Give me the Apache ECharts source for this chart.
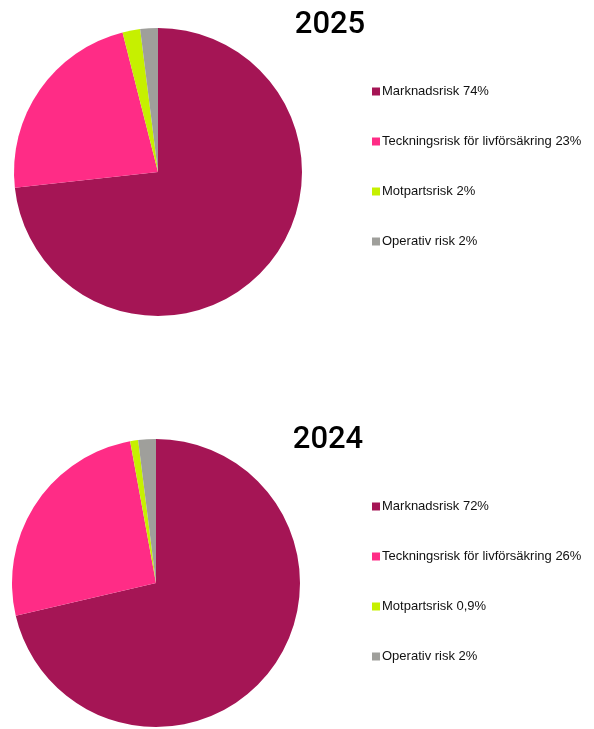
<!DOCTYPE html>
<html>
<head>
<meta charset="utf-8">
<script src="https://cdn.jsdelivr.net/npm/echarts@6/dist/echarts.min.js"></script>
<style>
  html, body { margin: 0; padding: 0; background: #fff; }
  #chart { width: 594px; height: 729px; }
</style>
</head>
<body>
<div id="chart"></div>
<script>
// kategorier och andelar per år
const categories = ['Marknadsrisk', 'Teckningsrisk för livförsäkring', 'Motpartsrisk', 'Operativ risk'];
const values2025 = [74, 23, 2, 2];
const labels2025 = ['74%', '23%', '2%', '2%'];
const values2024 = [72, 26, 0.9, 2];
const labels2024 = ['72%', '26%', '0,9%', '2%'];
const colors = ['#a51555', '#ff2c86', '#c6f000', '#9f9f9b'];

// namn med procent, så att varje legend får sina egna rader
const names2025 = categories.map((c, i) => c + ' ' + labels2025[i]);
const names2024 = categories.map((c, i) => c + ' ' + labels2024[i]);

const chart = echarts.init(document.getElementById('chart'));

const legendBase = {
  orient: 'vertical',
  left: 372,
  padding: 0,
  icon: 'rect',
  itemWidth: 8,
  itemHeight: 8,
  itemGap: 37,
  selectedMode: false,
  textStyle: { fontFamily: 'Liberation Sans', fontSize: 13, color: '#111', padding: [0, 0, 0, -3] }
};

function pieSeries(names, values, center) {
  return {
    type: 'pie',
    radius: 144,
    center: center,
    startAngle: 90,
    clockwise: true,
    label: { show: false },
    labelLine: { show: false },
    emphasis: { disabled: true },
    itemStyle: { borderWidth: 0 },
    data: names.map((n, i) => ({ name: n, value: values[i], itemStyle: { color: colors[i] } }))
  };
}

const titleStyle = { fontFamily: 'Roboto', fontWeight: 500, fontSize: 31, color: '#000' };

const option = {
  animation: false,
  title: [
    { text: '2025', left: 330, top: 10, textAlign: 'center', padding: 0, textStyle: titleStyle },
    { text: '2024', left: 328, top: 425, textAlign: 'center', padding: 0, textStyle: titleStyle }
  ],
  legend: [
    Object.assign({}, legendBase, { top: 85, data: names2025 }),
    Object.assign({}, legendBase, { top: 500, data: names2024 })
  ],
  series: [
    pieSeries(names2025, values2025, [158, 172]),
    pieSeries(names2024, values2024, [156, 583])
  ]
};

chart.setOption(option);
</script>
</body>
</html>
